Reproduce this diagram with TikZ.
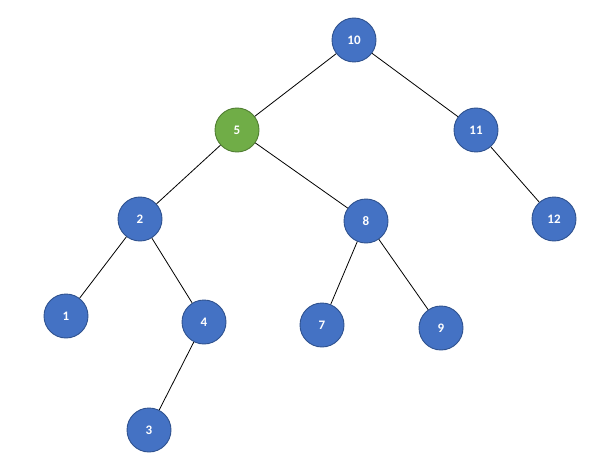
\documentclass[tikz,border=0pt]{standalone}
\usepackage{fontspec}
\setmainfont{Carlito}
\definecolor{nblue}{HTML}{4472C4}
\definecolor{nblueb}{HTML}{2F528F}
\definecolor{ngreen}{HTML}{70AD47}
\definecolor{ngreenb}{HTML}{507E32}
\tikzset{
  bnode/.style={circle, minimum size=44pt, inner sep=0pt, fill=nblue, draw=nblueb, line width=0.9pt, text=white, font=\bfseries\fontsize{13}{15}\selectfont},
  gnode/.style={bnode, fill=ngreen, draw=ngreenb},
  edge/.style={draw=black, line width=0.8pt}
}
\begin{document}
\begin{tikzpicture}[x=1pt,y=-1pt]
\useasboundingbox (0,0) rectangle (613,468);
\node[bnode] (n10) at (354,40) {10};
\node[gnode] (n5) at (237,130) {5};
\node[bnode] (n11) at (476,130) {11};
\node[bnode] (n2) at (140,219) {2};
\node[bnode] (n8) at (366,221) {8};
\node[bnode] (n12) at (554,219) {12};
\node[bnode] (n1) at (66,316) {1};
\node[bnode] (n4) at (204,322) {4};
\node[bnode] (n7) at (322,325) {7};
\node[bnode] (n9) at (441,328) {9};
\node[bnode] (n3) at (149,430) {3};
\draw[edge] (n10) -- (n5);
\draw[edge] (n10) -- (n11);
\draw[edge] (n11) -- (n12);
\draw[edge] (n5) -- (n2);
\draw[edge] (n5) -- (n8);
\draw[edge] (n2) -- (n1);
\draw[edge] (n2) -- (n4);
\draw[edge] (n4) -- (n3);
\draw[edge] (n8) -- (n7);
\draw[edge] (n8) -- (n9);
\end{tikzpicture}
\end{document}
